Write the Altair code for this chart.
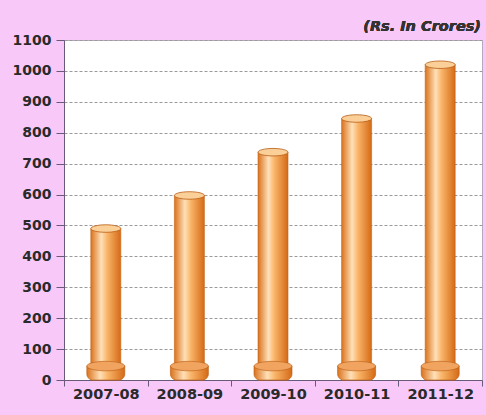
import altair as alt
import pandas as pd

years = ["2007-08", "2008-09", "2009-10", "2010-11", "2011-12"]
values = [490, 597, 737, 846, 1020]
base_h = [45, 45, 45, 45, 45]
y_ticks = [0, 100, 200, 300, 400, 500, 600, 700, 800, 900, 1000, 1100]

df = pd.DataFrame({"year": years, "value": values, "base": base_h, "zero": [0] * 5})

W, H = 418, 340
pink = "#f8c8f8"
FONT = "DejaVu Sans"

xaxis = alt.Axis(labelAngle=0, labelFont=FONT, labelFontWeight="bold",
                 labelFontSize=14.5, labelColor="#2a2a2a", domainColor="#6a5a7a",
                 tickColor="#6a5a7a", tickBand="extent", tickSize=6, labelPadding=1,
                 labelOverlap=False, title=None)
xscale = alt.Scale(paddingInner=0, paddingOuter=0)
yscale = alt.Scale(domain=[0, 1100], nice=False)
yaxis = alt.Axis(values=y_ticks, format="d", labelFont=FONT,
                 labelFontWeight="bold", labelFontSize=14, labelColor="#2a2a2a",
                 domainColor="#6a5a7a", tickColor="#6a5a7a", tickSize=8, labelPadding=5,
                 labelOverlap=False, title=None,
                 gridColor="#9a9a9a", gridDash=[3, 2], gridWidth=1)


def X():
    return alt.X("year:N", sort=years, scale=xscale, axis=xaxis)


def Y(field):
    return alt.Y(field, scale=yscale, axis=yaxis)


base = alt.Chart(df)

grad = alt.Gradient(gradient="linear", x1=0, x2=1, y1=0, y2=0,
                    stops=[alt.GradientStop(offset=0, color="#da721c"),
                           alt.GradientStop(offset=0.35, color="#ffe0b8"),
                           alt.GradientStop(offset=0.55, color="#f9b468"),
                           alt.GradientStop(offset=1, color="#d46a16")])

body = base.mark_bar(size=30, fill=grad, stroke="#c46418", strokeWidth=0.6).encode(
    x=X(), y=Y("value:Q"), y2="zero:Q",
)

ELL = "M-1,0 A1,0.25,0,1,1,1,0 A1,0.25,0,1,1,-1,0 Z"

top = base.mark_point(shape=ELL, size=900, filled=True, fill="#fbcf98", stroke="#b85c14",
                      strokeWidth=0.8, opacity=1).encode(
    x=X(), y=Y("value:Q"),
)

basebar = base.mark_bar(size=38, fill=grad, stroke="#b85c14", strokeWidth=0.6,
                        cornerRadiusBottomLeft=6, cornerRadiusBottomRight=6).encode(
    x=X(), y=Y("base:Q"), y2="zero:Q",
)

basetop = base.mark_point(shape=ELL, size=1444, filled=True, fill="#f0a460", stroke="#b85c14",
                          strokeWidth=0.6, opacity=1).encode(
    x=X(), y=Y("base:Q"),
)

title = base.mark_text(text="(Rs. In Crores)", font=FONT, fontStyle="italic",
                       fontWeight="bold", fontSize=14.5, color="#333333", align="right").encode(
    x=alt.value(W - 1), y=alt.value(-13)
)

chart = alt.layer(body, basebar, basetop, top, title).properties(
    width=W, height=H,
    background=pink,
    padding={"left": 64, "top": 40, "right": 4, "bottom": 35},
    autosize=alt.AutoSizeParams(type="none"),
).configure_view(stroke="#b8a8c0", fill="white")

chart.save("out.html", embed_options={"renderer": "svg", "actions": False})
